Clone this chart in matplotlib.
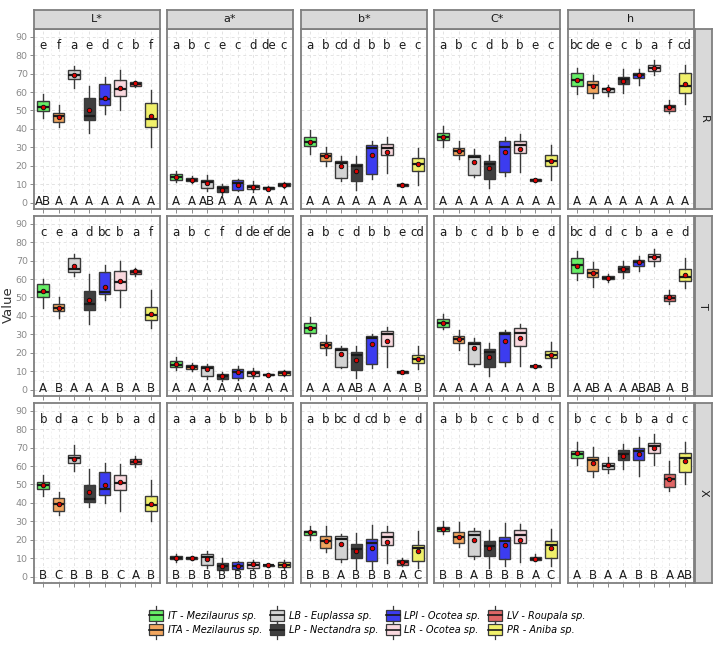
import matplotlib
matplotlib.use("Agg")
import matplotlib.pyplot as plt
from matplotlib.patches import Patch, Rectangle
from matplotlib.lines import Line2D
from matplotlib.legend_handler import HandlerBase

species = ["IT - Mezilaurus sp.", "ITA - Mezilaurus sp.", "LB - Euplassa sp.",
           "LP - Nectandra sp.", "LPI - Ocotea sp.", "LR - Ocotea sp.",
           "LV - Roupala sp.", "PR - Aniba sp."]
colors = ["#66EE66", "#F2A65E", "#D3D3D3", "#3F3F3F", "#3C3CF0", "#F9D8DE", "#E06666", "#F0F06A"]
variables = ["L*", "a*", "b*", "C*", "h"]
groups = ["R", "T", "X"]

# each row: [lower whisker, q1, median, q3, upper whisker, mean]
L_R = [[46, 49.5, 52, 55, 59, 52], [41, 43.5, 47, 48.5, 53, 46.5], [62, 67, 69.5, 72, 74, 69],
       [38, 45, 47, 57, 63.5, 50], [48, 53, 56, 64.5, 68, 57], [50, 58, 61.5, 66.5, 72, 62],
       [62.5, 63.5, 64.5, 65.5, 66, 65], [30, 41, 45.5, 54, 61, 47]]
a_R = [[11, 12.5, 14, 15.5, 17, 14], [10.5, 11.5, 12.5, 13.5, 14.5, 12.5], [6.5, 8, 11, 12.5, 15, 10.5],
       [4, 5.5, 8, 9, 10, 7], [6, 7, 10.5, 12, 13, 9.5], [5.5, 7.5, 8.5, 9.5, 11.5, 8.5],
       [7, 7.5, 8, 8.5, 9, 7.5], [8, 9, 9.5, 10.5, 11, 9.5]]
b_R = [[26.4, 30.5, 33, 35.5, 39.6, 33], [20, 22.5, 25, 27, 30.4, 25], [11.6, 13.3, 21.5, 22.4, 25, 19.6],
       [6.7, 11.8, 20, 21, 25.3, 17], [13, 15.6, 29.8, 31, 33.5, 25.6], [16, 25.6, 29.8, 31.8, 35.8, 27.5],
       [9, 9.1, 9.6, 10.2, 10.4, 9.6], [9.6, 17, 20.7, 24.4, 29.6, 20.7]]
C_R = [[30, 34, 35.8, 37.6, 41.5, 35.8], [23.6, 26, 27.8, 29.6, 33.3, 27.8], [13.6, 15, 24.5, 25.8, 29, 22.2],
       [7.8, 13, 20.7, 22.7, 26, 18.5], [14.4, 16.5, 30, 33.3, 35.8, 27.3], [16.7, 26.7, 31, 33.5, 37.3, 29],
       [11.4, 11.6, 12.2, 12.7, 13, 12.2], [12.2, 20, 22.7, 25.8, 31.3, 22.7]]
h_R = [[59, 63.5, 66.4, 70.5, 73, 66.4], [57, 59.6, 64, 66.2, 69, 63], [57.6, 60.2, 61.5, 62.4, 64, 61.8],
       [59.5, 64.2, 67, 68.4, 72.7, 66.2], [63.6, 67.5, 69, 70.5, 72.7, 69], [69, 71.6, 73, 74.4, 77.3, 73],
       [48.5, 49.8, 52, 53, 55.8, 52], [53.5, 59.6, 63, 70.5, 74.7, 64.5]]

L_T = [[44.5, 50, 52.7, 57.5, 60.2, 53.3], [39, 42.5, 44.5, 46.5, 50.5, 44.5], [61.7, 64, 65.5, 71.5, 73.5, 66.8],
       [35.6, 43, 46.4, 53.3, 62.6, 48.5], [48.5, 51.6, 53, 63.7, 67.7, 55.8], [44.7, 54, 58.6, 64.2, 70, 58.8],
       [61.7, 62.8, 63.7, 64.8, 65.9, 64.2], [33.6, 37.8, 40.7, 44.7, 54, 41.2]]
a_T = [[10.8, 12.2, 13.5, 15.3, 17.5, 13.7], [10.2, 11.3, 12.2, 13.1, 14.6, 12.2], [5.8, 7.1, 11.5, 12.8, 14, 11.1],
       [4.6, 5.5, 7.1, 8.6, 9.5, 7.1], [5.3, 6.2, 9.7, 11.3, 12.6, 9.3], [6, 7.5, 8.8, 9.9, 11.5, 8.8],
       [7.3, 7.7, 7.9, 8.4, 8.7, 8], [7.3, 8, 9, 9.9, 10.6, 9]]
b_T = [[28.8, 30.8, 33.6, 36, 39.4, 33.6], [19, 22.3, 24.3, 25.7, 29.6, 24.3], [11.5, 12.4, 21.7, 22.6, 23.5, 19.2],
       [6.2, 10.6, 19, 20.3, 23.4, 16.2], [11.7, 14, 28.1, 29.2, 30.3, 24.5], [12, 23.5, 30.3, 32, 34, 26.5],
       [8.8, 9, 9.5, 10, 10.2, 9.5], [11, 14.6, 16.8, 18.6, 23.7, 16.8]]
C_T = [[32.7, 34, 36.3, 38.5, 40.9, 36.3], [21.4, 25.4, 27.2, 29.2, 32.1, 27.2], [12.8, 14, 24.6, 25.9, 28.1, 22.3],
       [7.1, 12, 20.6, 22, 25.4, 17.9], [12.8, 15.1, 30.1, 31, 32.3, 26.3], [13, 23.5, 30.7, 33.4, 35.6, 27.9],
       [11.8, 12, 12.6, 13, 13.2, 12.6], [12, 17.2, 18.8, 21, 25.7, 19]]
h_T = [[59.5, 63.5, 67.5, 71.5, 75.4, 67.3], [55.8, 61, 63.1, 65.5, 69.5, 63.1], [58.6, 59.9, 60.8, 61.5, 62.8, 60.8],
       [60.6, 63.9, 65.5, 67.3, 69.9, 65.5], [64.2, 67.3, 69, 70.4, 72.6, 69], [67, 70, 71.9, 73.4, 76.5, 71.7],
       [46.2, 48.2, 49.8, 51.1, 53.8, 50.5], [55.1, 58.8, 61.3, 65.3, 71.2, 62]]

L_X = [[43.8, 47.6, 49.5, 51.5, 55, 49.8], [33.6, 35.5, 39.3, 42.5, 46, 39.3], [57.5, 61.8, 64.4, 66.2, 71.3, 64],
       [38, 40.5, 42.2, 49.6, 58.4, 45.8], [40, 44, 47.3, 56.7, 61.6, 49.6], [35.8, 47, 51, 55, 61, 51.3],
       [59.3, 61, 62.4, 63.6, 65.6, 62.5], [30.4, 35.6, 38.7, 43.6, 52.2, 39.6]]
a_X = [[7.8, 9.3, 10.2, 11.3, 12.4, 10.2], [8.8, 9.3, 10, 10.7, 11.3, 10], [4.9, 6, 10.5, 12.2, 13.8, 9.6],
       [3.3, 3.8, 5.8, 7.6, 10.2, 5.8], [3.3, 4.2, 5.8, 7.8, 8.5, 5.8], [3.3, 4.7, 6.4, 8, 9, 6.7],
       [5.3, 5.6, 6, 6.4, 6.8, 6], [4.2, 5.1, 6.5, 7.8, 8.9, 6.5]]
b_X = [[20, 22.7, 24, 24.9, 27.3, 24], [13.3, 15.3, 19.3, 22.2, 27.3, 19.3], [7.8, 9.3, 20.4, 21.8, 23.3, 17.5],
       [3.8, 10, 15, 17.8, 23.5, 14], [4.2, 8.4, 18.4, 20.2, 28, 15.6], [7.5, 16.9, 21.3, 24.2, 27.3, 18.9],
       [5.8, 6.5, 8, 9.1, 10, 8], [4.5, 8.4, 15.6, 17.3, 24.5, 14]]
C_X = [[23.3, 24.9, 26, 27.1, 30, 26], [15.8, 18.4, 21.5, 24, 29.6, 21.5], [9.6, 11, 22.5, 24.7, 26.2, 20],
       [4.5, 10.9, 16.7, 19.5, 25.5, 15.5], [5.5, 9.5, 19.3, 21.5, 29.3, 16.9], [7.8, 18, 22.5, 25.5, 28.7, 20],
       [8.4, 8.9, 9.6, 10.5, 12.5, 9.6], [5.5, 9.8, 16.9, 19.1, 26, 15.6]]
h_X = [[60.5, 64.4, 66.4, 68, 72.9, 67], [54, 57.5, 63.5, 65, 70.4, 61.8], [56.4, 58.5, 60, 61.8, 65, 60.5],
       [58.2, 63.3, 66.4, 68.5, 72.2, 65.6], [54.7, 63.5, 68.2, 70, 75.5, 66.7], [60.7, 67.1, 71.1, 72.5, 77.6, 70],
       [46.4, 48.7, 52.9, 55.6, 62.5, 52.9], [50.2, 56.5, 64.5, 67.3, 72.9, 62.5]]

# letters above (between species) and below (between groups)
top_R = [list("efaedcbf"), list("abcecd") + ["de", "c"], ["a", "b", "cd", "d", "b", "b", "e", "c"],
         list("abcdbbec"), ["bc", "de", "e", "c", "b", "a", "f", "cd"]]
bot_R = [["AB"] + list("AAAAAAA"), ["A", "A", "AB", "A", "A", "A", "A", "A"], list("AAAAAAAA"),
         list("AAAAAAAA"), list("AAAAAAAA")]
top_T = [["c", "e", "a", "d", "bc", "b", "a", "f"], ["a", "b", "c", "f", "d", "de", "ef", "de"],
         ["a", "b", "c", "d", "b", "b", "e", "cd"], list("abcdbbed"), ["bc", "d", "d", "c", "b", "a", "e", "d"]]
bot_T = [list("ABAAABAB"), list("AAAAAAAA"), ["A", "A", "A", "AB", "A", "A", "A", "B"],
         list("AAAAAAAB"), ["A", "AB", "A", "A", "AB", "AB", "A", "B"]]
top_X = [list("bdacbbad"), list("aaabbbbb"), ["a", "b", "bc", "d", "cd", "b", "e", "d"],
         list("abbccbdc"), list("bccbbadc")]
bot_X = [list("BCBBBCAB"), list("BBBBBBBB"), list("BBABBBAC"), list("BBABBBAC"),
         ["A", "B", "A", "A", "B", "B", "A", "AB"]]

panels = [[L_R, a_R, b_R, C_R, h_R], [L_T, a_T, b_T, C_T, h_T], [L_X, a_X, b_X, C_X, h_X]]
tops = [top_R, top_T, top_X]
bots = [bot_R, bot_T, bot_X]

W, H = 725, 646
fig = plt.figure(figsize=(W / 100, H / 100), dpi=100)

col_left = [34, 167, 301, 434, 568]
row_top = [29, 216, 403]
pw, ph = 126, 180
edge = "#7F7F7F"
strip_bg = "#D9D9D9"


def px_axes(x, y, w, h):
    return fig.add_axes([x / W, 1 - (y + h) / H, w / W, h / H])


pos = list(range(1, 9))
for r in range(3):
    for c in range(5):
        ax = px_axes(col_left[c], row_top[r], pw, ph)
        data = panels[r][c]
        stats = [dict(whislo=d[0], q1=d[1], med=d[2], q3=d[3], whishi=d[4], fliers=[]) for d in data]
        bp = ax.bxp(stats, positions=pos, widths=0.75, patch_artist=True, showfliers=False,
                    showcaps=False,
                    boxprops=dict(edgecolor="#3A3A3A", linewidth=1.0),
                    whiskerprops=dict(color="#3A3A3A", linewidth=1.0),
                    medianprops=dict(color="#1A1A1A", linewidth=1.6))
        for patch, col in zip(bp["boxes"], colors):
            patch.set_facecolor(col)
        ax.plot(pos, [d[5] for d in data], "o", ms=3.2, mfc="#E00000", mec="#111111", mew=0.7, zorder=5)
        for i in range(8):
            ax.text(pos[i], 85, tops[r][c][i], ha="center", va="center", fontsize=8.5, color="#1A1A1A")
            ax.text(pos[i], 0.6, bots[r][c][i], ha="center", va="center", fontsize=8.5, color="#1A1A1A")
        ax.set_xlim(0.4, 8.6)
        ax.set_ylim(-3.5, 94.2)
        ax.set_yticks(range(0, 91, 10))
        ax.set_yticks(range(5, 91, 10), minor=True)
        ax.set_xticks(pos)
        ax.set_xticks([p + 0.5 for p in pos[:-1]], minor=True)
        ax.grid(True, which="major", color="#E3E3E3", linestyle=(0, (3, 3)), linewidth=0.7)
        ax.grid(True, which="minor", color="#EFEFEF", linestyle=(0, (3, 3)), linewidth=0.5)
        ax.set_axisbelow(True)
        ax.tick_params(which="minor", length=0)
        ax.tick_params(axis="x", labelbottom=False, length=3, color="#8A8A8A", width=0.7)
        ax.tick_params(axis="y", length=3, color="#8A8A8A", width=0.7, labelsize=6.8, labelcolor="#8A8A8A", pad=1.5)
        if c > 0:
            ax.tick_params(axis="y", left=False, labelleft=False)
        for s in ax.spines.values():
            s.set_color(edge)
            s.set_linewidth(1.3)

        if r == 0:
            sax = px_axes(col_left[c], 10, pw, 19)
            sax.set_facecolor(strip_bg)
            sax.set_xticks([])
            sax.set_yticks([])
            for s in sax.spines.values():
                s.set_color(edge)
                s.set_linewidth(1.3)
            sax.text(0.5, 0.5, variables[c], ha="center", va="center", fontsize=8, color="#1A1A1A",
                     transform=sax.transAxes)
        if c == 4:
            sax = px_axes(695, row_top[r], 17, ph)
            sax.set_facecolor(strip_bg)
            sax.set_xticks([])
            sax.set_yticks([])
            for s in sax.spines.values():
                s.set_color(edge)
                s.set_linewidth(1.3)
            sax.text(0.5, 0.5, groups[r], ha="center", va="center", fontsize=8, color="#1A1A1A",
                     rotation=-90, transform=sax.transAxes)

fig.text(8 / W, 1 - 305 / H, "Value", rotation=90, ha="center", va="center", fontsize=9.5, color="#333333")


class BoxHandler(HandlerBase):
    def create_artists(self, legend, orig_handle, xdescent, ydescent, width, height, fontsize, trans):
        bw, bh = 10, 8
        x0 = (width - bw) / 2 - xdescent
        y0 = (height - bh) / 2 - ydescent
        cx = x0 + bw / 2
        rect = Rectangle((x0, y0), bw, bh, facecolor=orig_handle.get_facecolor(),
                         edgecolor="#3A3A3A", linewidth=0.9, transform=trans)
        med = Line2D([x0, x0 + bw], [y0 + bh / 2] * 2, color="#1A1A1A", lw=1.2, transform=trans)
        w1 = Line2D([cx, cx], [y0 - 2.5, y0], color="#3A3A3A", lw=0.9, transform=trans)
        w2 = Line2D([cx, cx], [y0 + bh, y0 + bh + 2.5], color="#3A3A3A", lw=0.9, transform=trans)
        return [w1, w2, rect, med]


handles = [Patch(facecolor=col) for col in colors]
fig.legend(handles, species, handler_map={Patch: BoxHandler()}, ncol=4, loc="center",
           bbox_to_anchor=(368 / W, 1 - 623 / H), frameon=False,
           prop=dict(style="italic", size=7), handlelength=1.2, handletextpad=0.6,
           columnspacing=0.9, labelspacing=0.45)

fig.savefig("out.png", dpi=100)
